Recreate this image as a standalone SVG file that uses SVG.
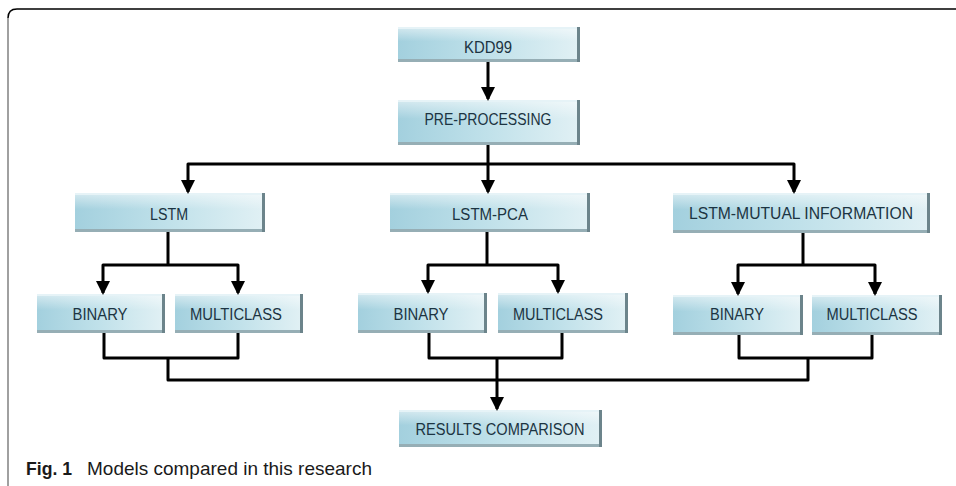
<svg xmlns="http://www.w3.org/2000/svg" width="956" height="486" viewBox="0 0 956 486">
<defs>
<linearGradient id="g" x1="0" y1="0" x2="1" y2="0">
<stop offset="0" stop-color="#a3d0de"/>
<stop offset="0.5" stop-color="#c0e1ea"/>
<stop offset="1" stop-color="#e0f0f4"/>
</linearGradient>
<linearGradient id="hl" x1="0" y1="0" x2="0" y2="1">
<stop offset="0" stop-color="#ffffff" stop-opacity="0.55"/>
<stop offset="0.45" stop-color="#ffffff" stop-opacity="0"/>
</linearGradient>
<marker id="ah" markerUnits="userSpaceOnUse" markerWidth="14" markerHeight="14" viewBox="0 0 14 14" refX="12" refY="7" orient="auto-start-reverse">
<path d="M0,0 L14,7 L0,14 Z" fill="#000"/>
</marker>
</defs>
<style>
.face{fill:url(#g)}
.gl{fill:url(#hl)}
.bb{fill:#96aeb5}
.rb{fill:#6c848b}
.tb{fill:#e6f3f7}
.lbl{font-family:"Liberation Sans",Arial,sans-serif;font-size:16px;fill:#1c3442;text-anchor:middle}
.c{fill:none;stroke:#000;stroke-width:3;stroke-linejoin:round}
.a{fill:none;stroke:#000;stroke-width:3}
</style>
<rect width="956" height="486" fill="#fff"/>
<path d="M8,486 L8,18" fill="none" stroke="#808080" stroke-width="1.5"/>
<path d="M8,18 Q8,9 17,9 L956,9" fill="none" stroke="#000" stroke-width="1.5"/>

<g id="kdd99">
<rect class="face" x="398" y="27" width="179" height="32"/><rect class="gl" x="398" y="27" width="179" height="32"/>
<rect class="tb" x="398" y="27" width="179" height="2"/><rect class="bb" x="398" y="59" width="182" height="3"/><rect class="rb" x="577" y="27" width="3" height="35"/>
<text class="lbl" x="488" y="53" textLength="48" lengthAdjust="spacingAndGlyphs">KDD99</text>
</g>
<g id="preprocessing">
<rect class="face" x="398" y="100" width="179" height="42"/><rect class="gl" x="398" y="100" width="179" height="42"/>
<rect class="tb" x="398" y="100" width="179" height="2"/><rect class="bb" x="398" y="142" width="182" height="3"/><rect class="rb" x="577" y="100" width="3" height="45"/>
<text class="lbl" x="488" y="125" textLength="127" lengthAdjust="spacingAndGlyphs">PRE-PROCESSING</text>
</g>
<g id="lstm">
<rect class="face" x="75" y="193" width="187" height="36"/><rect class="gl" x="75" y="193" width="187" height="36"/>
<rect class="tb" x="75" y="193" width="187" height="2"/><rect class="bb" x="75" y="229" width="190" height="3"/><rect class="rb" x="262" y="193" width="3" height="39"/>
<text class="lbl" x="169" y="220" textLength="38" lengthAdjust="spacingAndGlyphs">LSTM</text>
</g>
<g id="lstm-pca">
<rect class="face" x="390" y="193" width="197" height="36"/><rect class="gl" x="390" y="193" width="197" height="36"/>
<rect class="tb" x="390" y="193" width="197" height="2"/><rect class="bb" x="390" y="229" width="200" height="3"/><rect class="rb" x="587" y="193" width="3" height="39"/>
<text class="lbl" x="490" y="220" textLength="76" lengthAdjust="spacingAndGlyphs">LSTM-PCA</text>
</g>
<g id="lstm-mi">
<rect class="face" x="673" y="193" width="254" height="37"/><rect class="gl" x="673" y="193" width="254" height="37"/>
<rect class="tb" x="673" y="193" width="254" height="2"/><rect class="bb" x="673" y="230" width="257" height="3"/><rect class="rb" x="927" y="193" width="3" height="40"/>
<text class="lbl" x="801" y="219" textLength="224" lengthAdjust="spacingAndGlyphs">LSTM-MUTUAL INFORMATION</text>
</g>
<g id="binary-lstm">
<rect class="face" x="37" y="294" width="125" height="36"/><rect class="gl" x="37" y="294" width="125" height="36"/>
<rect class="tb" x="37" y="294" width="125" height="2"/><rect class="bb" x="37" y="330" width="128" height="3"/><rect class="rb" x="162" y="294" width="3" height="39"/>
<text class="lbl" x="100" y="320" textLength="55" lengthAdjust="spacingAndGlyphs">BINARY</text>
</g>
<g id="multiclass-lstm">
<rect class="face" x="175" y="294" width="125" height="36"/><rect class="gl" x="175" y="294" width="125" height="36"/>
<rect class="tb" x="175" y="294" width="125" height="2"/><rect class="bb" x="175" y="330" width="128" height="3"/><rect class="rb" x="300" y="294" width="3" height="39"/>
<text class="lbl" x="236" y="320" textLength="92" lengthAdjust="spacingAndGlyphs">MULTICLASS</text>
</g>
<g id="binary-pca">
<rect class="face" x="358" y="293" width="126" height="37"/><rect class="gl" x="358" y="293" width="126" height="37"/>
<rect class="tb" x="358" y="293" width="126" height="2"/><rect class="bb" x="358" y="330" width="129" height="3"/><rect class="rb" x="484" y="293" width="3" height="40"/>
<text class="lbl" x="421" y="320" textLength="55" lengthAdjust="spacingAndGlyphs">BINARY</text>
</g>
<g id="multiclass-pca">
<rect class="face" x="498" y="293" width="127" height="37"/><rect class="gl" x="498" y="293" width="127" height="37"/>
<rect class="tb" x="498" y="293" width="127" height="2"/><rect class="bb" x="498" y="330" width="130" height="3"/><rect class="rb" x="625" y="293" width="3" height="40"/>
<text class="lbl" x="558" y="320" textLength="90" lengthAdjust="spacingAndGlyphs">MULTICLASS</text>
</g>
<g id="binary-mi">
<rect class="face" x="673" y="295" width="127" height="37"/><rect class="gl" x="673" y="295" width="127" height="37"/>
<rect class="tb" x="673" y="295" width="127" height="2"/><rect class="bb" x="673" y="332" width="130" height="3"/><rect class="rb" x="800" y="295" width="3" height="40"/>
<text class="lbl" x="737" y="320" textLength="54" lengthAdjust="spacingAndGlyphs">BINARY</text>
</g>
<g id="multiclass-mi">
<rect class="face" x="812" y="295" width="127" height="37"/><rect class="gl" x="812" y="295" width="127" height="37"/>
<rect class="tb" x="812" y="295" width="127" height="2"/><rect class="bb" x="812" y="332" width="130" height="3"/><rect class="rb" x="939" y="295" width="3" height="40"/>
<text class="lbl" x="872" y="320" textLength="91" lengthAdjust="spacingAndGlyphs">MULTICLASS</text>
</g>
<g id="results">
<rect class="face" x="399" y="410" width="200" height="34"/><rect class="gl" x="399" y="410" width="200" height="34"/>
<rect class="tb" x="399" y="410" width="200" height="2"/><rect class="bb" x="399" y="444" width="203" height="3"/><rect class="rb" x="599" y="410" width="3" height="37"/>
<text class="lbl" x="500" y="435" textLength="169" lengthAdjust="spacingAndGlyphs">RESULTS COMPARISON</text>
</g>

<g id="connectors">
<path class="a" d="M488,62 L488,99" marker-end="url(#ah)"/>
<path class="c" d="M488,145 L488,164"/>
<path class="c" d="M188,192 L188,164 L794,164 L794,192" marker-start="url(#ah)" marker-end="url(#ah)"/>
<path class="a" d="M488,164 L488,192" marker-end="url(#ah)"/>
<path class="c" d="M168,232 L168,265"/>
<path class="c" d="M103,293 L103,265 L238,265 L238,293" marker-start="url(#ah)" marker-end="url(#ah)"/>
<path class="c" d="M487,232 L487,265"/>
<path class="c" d="M428,292 L428,265 L558,265 L558,292" marker-start="url(#ah)" marker-end="url(#ah)"/>
<path class="c" d="M803,233 L803,265"/>
<path class="c" d="M738,294 L738,265 L875,265 L875,294" marker-start="url(#ah)" marker-end="url(#ah)"/>
<path class="c" d="M104,333 L104,358 L238,358 L238,333"/>
<path class="c" d="M168,358 L168,380 L808,380 L808,358"/>
<path class="c" d="M429,333 L429,358 L562,358 L562,333"/>
<path class="c" d="M739,335 L739,358 L872,358 L872,335"/>
<path class="a" d="M497,358 L497,409" marker-end="url(#ah)"/>
</g>

<text x="26" y="475" font-family="'Liberation Sans',Arial,sans-serif" font-size="19" fill="#1a1a1a"><tspan font-weight="bold" textLength="46" lengthAdjust="spacingAndGlyphs">Fig. 1</tspan><tspan x="87" textLength="285" lengthAdjust="spacingAndGlyphs">Models compared in this research</tspan></text>
</svg>
